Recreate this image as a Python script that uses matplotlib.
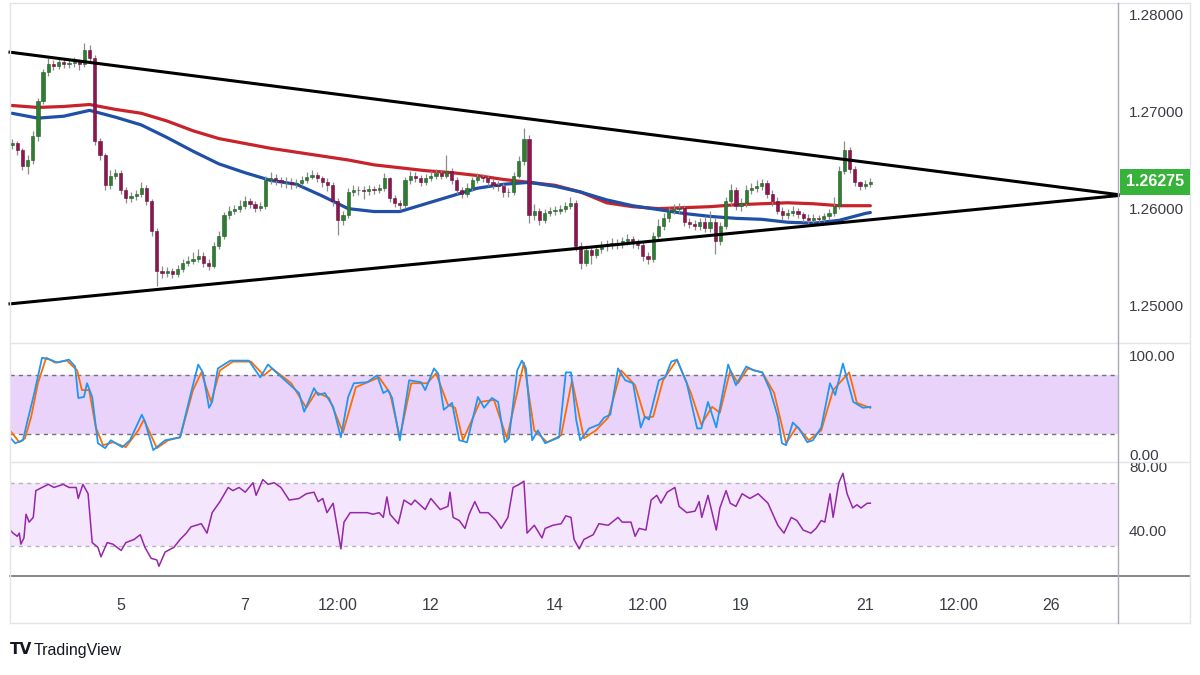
import matplotlib
matplotlib.use("Agg")
import matplotlib.pyplot as plt
import matplotlib.transforms as mtransforms
from matplotlib.lines import Line2D
from matplotlib.patches import Rectangle
import numpy as np

plt.rcParams['font.family'] = ['Liberation Sans Narrow', 'Liberation Sans', 'DejaVu Sans']

# ---- data (2h bars, index 0 = first bar) ----
first_open = 1.2665
closes = [1.2667, 1.2660, 1.2644, 1.2650, 1.2675, 1.2711, 1.2740, 1.2749, 1.2747, 1.2751,
          1.2749, 1.2750, 1.2751, 1.2749, 1.2763, 1.2755, 1.2670, 1.2655, 1.2624, 1.2634,
          1.2637, 1.2619, 1.2611, 1.2613, 1.2615, 1.2621, 1.2608, 1.2577, 1.2536, 1.2534,
          1.2536, 1.2533, 1.2538, 1.2544, 1.2546, 1.2548, 1.2551, 1.2544, 1.2541, 1.2562,
          1.2572, 1.2593, 1.2598, 1.2600, 1.2603, 1.2608, 1.2605, 1.2601, 1.2603, 1.2629,
          1.2631, 1.2629, 1.2627, 1.2627, 1.2625, 1.2626, 1.2629, 1.2633, 1.2635, 1.2631,
          1.2627, 1.2624, 1.2608, 1.2588, 1.2593, 1.2617, 1.2619, 1.2619, 1.2618, 1.2620,
          1.2619, 1.2621, 1.2631, 1.2611, 1.2606, 1.2604, 1.2629, 1.2634, 1.2631, 1.2627,
          1.2631, 1.2634, 1.2637, 1.2634, 1.2639, 1.2629, 1.2619, 1.2615, 1.2621, 1.2629,
          1.2633, 1.2631, 1.2627, 1.2624, 1.2623, 1.2617, 1.2617, 1.2634, 1.2649, 1.2672,
          1.2593, 1.2598, 1.2588, 1.2595, 1.2598, 1.2598, 1.2600, 1.2603, 1.2606, 1.2562,
          1.2544, 1.2557, 1.2552, 1.2559, 1.2562, 1.2563, 1.2565, 1.2564, 1.2567, 1.2569,
          1.2565, 1.2563, 1.2551, 1.2548, 1.2572, 1.2582, 1.2590, 1.2598, 1.2600, 1.2601,
          1.2586, 1.2584, 1.2582, 1.2586, 1.2580, 1.2586, 1.2567, 1.2582, 1.2608, 1.2619,
          1.2603, 1.2606, 1.2619, 1.2621, 1.2623, 1.2626, 1.2615, 1.2608, 1.2598, 1.2593,
          1.2596, 1.2598, 1.2594, 1.2590, 1.2588, 1.2590, 1.2589, 1.2592, 1.2596, 1.2603,
          1.2639, 1.2660, 1.2641, 1.2627, 1.2623, 1.2625, 1.26275]
highs = [1.2672, 1.2670, 1.2662, 1.2655, 1.2680, 1.2714, 1.2744, 1.2755, 1.2753, 1.2755,
         1.2754, 1.2754, 1.2756, 1.2754, 1.2770, 1.2768, 1.2758, 1.2673, 1.2657, 1.2640,
         1.2641, 1.2640, 1.2622, 1.2617, 1.2619, 1.2627, 1.2624, 1.2610, 1.2580, 1.2541,
         1.2540, 1.2539, 1.2542, 1.2548, 1.2551, 1.2555, 1.2558, 1.2555, 1.2548, 1.2566,
         1.2577, 1.2597, 1.2603, 1.2604, 1.2609, 1.2613, 1.2611, 1.2608, 1.2607, 1.2634,
         1.2638, 1.2636, 1.2633, 1.2632, 1.2631, 1.2630, 1.2634, 1.2638, 1.2640, 1.2638,
         1.2634, 1.2631, 1.2627, 1.2611, 1.2598, 1.2621, 1.2624, 1.2623, 1.2623, 1.2624,
         1.2623, 1.2625, 1.2637, 1.2633, 1.2614, 1.2609, 1.2633, 1.2639, 1.2638, 1.2635,
         1.2636, 1.2639, 1.2641, 1.2640, 1.2655, 1.2642, 1.2632, 1.2622, 1.2626, 1.2633,
         1.2637, 1.2636, 1.2634, 1.2630, 1.2628, 1.2626, 1.2621, 1.2638, 1.2654, 1.2683,
         1.2676, 1.2605, 1.2601, 1.2600, 1.2602, 1.2603, 1.2604, 1.2607, 1.2612, 1.2609,
         1.2566, 1.2563, 1.2561, 1.2563, 1.2567, 1.2568, 1.2570, 1.2569, 1.2571, 1.2574,
         1.2572, 1.2569, 1.2566, 1.2555, 1.2576, 1.2589, 1.2595, 1.2602, 1.2605, 1.2606,
         1.2604, 1.2590, 1.2588, 1.2590, 1.2592, 1.2598, 1.2590, 1.2586, 1.2612, 1.2625,
         1.2622, 1.2611, 1.2624, 1.2626, 1.2629, 1.2630, 1.2629, 1.2619, 1.2612, 1.2602,
         1.2600, 1.2603, 1.2601, 1.2597, 1.2594, 1.2594, 1.2593, 1.2596, 1.2600, 1.2612,
         1.2644, 1.2670, 1.2663, 1.2644, 1.2628, 1.2629, 1.2631]
lows = [1.2661, 1.2655, 1.2640, 1.2636, 1.2646, 1.2670, 1.2708, 1.2736, 1.2743, 1.2744,
        1.2745, 1.2745, 1.2746, 1.2742, 1.2746, 1.2751, 1.2665, 1.2650, 1.2619, 1.2620,
        1.2630, 1.2615, 1.2606, 1.2607, 1.2609, 1.2612, 1.2604, 1.2572, 1.2520, 1.2529,
        1.2530, 1.2529, 1.2530, 1.2535, 1.2541, 1.2543, 1.2545, 1.2540, 1.2537, 1.2539,
        1.2558, 1.2569, 1.2589, 1.2594, 1.2597, 1.2600, 1.2601, 1.2597, 1.2598, 1.2600,
        1.2625, 1.2624, 1.2622, 1.2621, 1.2620, 1.2621, 1.2623, 1.2626, 1.2630, 1.2627,
        1.2622, 1.2618, 1.2603, 1.2573, 1.2583, 1.2590, 1.2613, 1.2614, 1.2610, 1.2614,
        1.2615, 1.2616, 1.2618, 1.2607, 1.2602, 1.2599, 1.2601, 1.2625, 1.2627, 1.2623,
        1.2624, 1.2628, 1.2630, 1.2630, 1.2631, 1.2625, 1.2615, 1.2611, 1.2612, 1.2618,
        1.2626, 1.2627, 1.2623, 1.2620, 1.2618, 1.2612, 1.2612, 1.2614, 1.2631, 1.2645,
        1.2585, 1.2588, 1.2583, 1.2585, 1.2592, 1.2593, 1.2594, 1.2597, 1.2600, 1.2556,
        1.2538, 1.2541, 1.2543, 1.2549, 1.2554, 1.2556, 1.2559, 1.2559, 1.2560, 1.2563,
        1.2560, 1.2558, 1.2546, 1.2543, 1.2545, 1.2568, 1.2578, 1.2586, 1.2594, 1.2595,
        1.2582, 1.2580, 1.2578, 1.2578, 1.2576, 1.2576, 1.2553, 1.2563, 1.2579, 1.2604,
        1.2599, 1.2598, 1.2602, 1.2615, 1.2617, 1.2619, 1.2611, 1.2603, 1.2594, 1.2588,
        1.2589, 1.2592, 1.2590, 1.2586, 1.2584, 1.2585, 1.2585, 1.2586, 1.2588, 1.2592,
        1.2600, 1.2636, 1.2637, 1.2623, 1.2619, 1.2620, 1.2622]

# moving averages, sampled every 5 bars
ma_bars = list(range(0, 166, 5)) + [166]
ma_red = [1.2706, 1.2704, 1.2705, 1.2707, 1.2702, 1.2698, 1.2690, 1.2680, 1.2672, 1.2667,
          1.2662, 1.2658, 1.2654, 1.2650, 1.2645, 1.2642, 1.2639, 1.2637, 1.2634, 1.2630,
          1.2627, 1.2624, 1.2617, 1.2606, 1.2602, 1.2600, 1.2601, 1.2602, 1.2604, 1.2605,
          1.2606, 1.2605, 1.2603, 1.2603, 1.2603]
ma_blue = [1.2698, 1.2693, 1.2695, 1.2701, 1.2694, 1.2686, 1.2673, 1.2659, 1.2646, 1.2637,
           1.2629, 1.2625, 1.2613, 1.2600, 1.2597, 1.2597, 1.2605, 1.2613, 1.2621, 1.2625,
           1.2627, 1.2623, 1.2617, 1.2609, 1.2603, 1.2599, 1.2595, 1.2592, 1.2590, 1.2589,
           1.2586, 1.2585, 1.2588, 1.2595, 1.2596]

# triangle trend lines (start bar, end bar) / (start price, end price)
trend_bars = [-0.4, 213.9]
upper_line = [1.27608, 1.26144]
lower_line = [1.25021, 1.26134]

# stochastic %K / %D
k_bars = [-0.4, 0.6, 2.1, 2.9, 4.3, 5.8, 7.4, 8.7, 11.0, 12.2, 12.8, 13.9, 14.5, 15.5, 16.6,
          18.0, 19.1, 21.3, 22.8, 25.1, 25.7, 27.3, 29.6, 32.5, 34.6, 36.0, 36.9, 38.1, 38.7,
          39.8, 42.2, 45.8, 48.0, 49.5, 51.1, 53.2, 55.5, 56.5, 58.4, 59.2, 60.5, 62.1, 63.6,
          65.0, 66.1, 68.7, 70.6, 71.8, 72.7, 73.5, 75.0, 76.8, 79.1, 79.9, 81.6, 82.4, 83.5,
          85.1, 86.5, 88.0, 90.1, 91.3, 92.8, 94.0, 95.3, 96.1, 97.7, 98.6, 99.4, 100.6, 101.7,
          103.1, 105.8, 107.1, 108.1, 109.1, 109.9, 111.6, 113.5, 114.5, 115.7, 117.2, 118.6,
          120.1, 121.6, 122.4, 123.2, 125.1, 126.3, 127.5, 128.6, 130.5, 132.5, 133.3, 134.6,
          136.2, 137.3, 138.5, 140.0, 142.0, 143.5, 145.1, 146.6, 148.1, 148.9, 149.7, 151.0,
          152.2, 153.8, 154.9, 156.5, 158.2, 159.2, 160.7, 162.7, 164.6, 166.0]
k_vals = [17, 11, 14, 32, 62, 98, 96, 93, 96, 89, 57, 58, 72, 58, 11, 6, 14, 7, 14, 40,
          33, 4, 14, 17, 62, 91, 83, 47, 53, 87, 95, 95, 78, 91, 83, 73, 62, 43, 67, 60,
          62, 48, 17, 58, 72, 73, 80, 62, 65, 57, 14, 75, 73, 65, 87, 82, 45, 52, 14, 12,
          58, 47, 57, 53, 12, 16, 85, 95, 87, 14, 24, 11, 17, 83, 83, 35, 14, 26, 30, 37,
          40, 87, 75, 72, 27, 38, 35, 75, 78, 94, 96, 72, 26, 26, 53, 27, 58, 91, 70, 89,
          85, 83, 65, 38, 11, 9, 32, 26, 12, 14, 27, 72, 60, 92, 53, 47, 48]
d_bars = [-0.4, 1.4, 2.5, 3.7, 5.0, 6.6, 8.3, 10.6, 12.6, 13.5, 14.9, 16.2, 17.6, 19.5,
          22.0, 24.4, 25.5, 28.0, 30.2, 32.5, 35.0, 36.6, 38.5, 40.2, 42.7, 46.2, 48.7, 50.3,
          54.0, 56.9, 58.8, 61.3, 64.0, 66.5, 71.0, 73.1, 75.0, 77.2, 80.3, 82.0, 84.3, 85.7,
          87.2, 90.5, 93.2, 95.7, 99.0, 101.0, 103.5, 106.2, 108.3, 110.6, 112.9, 115.3, 117.8,
          120.5, 122.4, 124.0, 125.9, 128.6, 131.3, 133.3, 135.4, 136.9, 138.9, 140.4, 142.3,
          145.1, 147.4, 149.7, 151.8, 154.1, 156.5, 158.8, 161.9, 163.4, 166.0]
d_vals = [24, 12, 16, 38, 72, 98, 93, 95, 85, 65, 65, 27, 9, 12, 7, 24, 35, 6, 14, 17,
          65, 83, 53, 85, 94, 94, 80, 87, 72, 47, 63, 57, 22, 68, 78, 62, 17, 72, 72, 82,
          50, 47, 14, 53, 55, 16, 93, 24, 12, 19, 75, 16, 24, 37, 85, 70, 37, 38, 75, 96,
          62, 30, 48, 42, 85, 72, 87, 83, 62, 11, 28, 14, 24, 65, 83, 52, 47]

# RSI
rsi_bars = [-0.4, 0.2, 1.0, 1.4, 1.7, 2.3, 2.7, 3.3, 4.1, 4.6, 5.8, 7.0, 8.1, 9.9, 11.0,
            12.4, 12.8, 13.7, 14.7, 15.5, 16.6, 17.2, 18.4, 19.5, 21.1, 22.0, 23.6, 24.8,
            25.7, 26.9, 28.0, 28.4, 29.6, 31.3, 32.5, 33.7, 34.6, 36.6, 37.7, 38.7, 40.2,
            41.8, 42.7, 43.9, 45.1, 46.6, 47.2, 48.5, 49.5, 50.7, 52.0, 53.6, 55.5, 56.9,
            58.4, 59.2, 60.1, 60.9, 62.1, 63.6, 64.2, 65.4, 67.3, 68.7, 69.8, 71.0, 71.8,
            72.5, 73.1, 74.7, 75.8, 77.2, 77.9, 79.9, 81.0, 82.8, 84.3, 84.7, 85.3, 86.5,
            87.6, 88.4, 89.5, 90.5, 92.1, 93.6, 94.6, 95.9, 96.9, 98.1, 99.0, 99.6, 101.0,
            102.5, 103.1, 104.6, 106.2, 107.1, 108.1, 108.7, 109.7, 110.6, 112.4, 113.5,
            115.3, 117.2, 118.0, 119.7, 120.5, 121.3, 122.6, 123.6, 124.7, 125.5, 126.7,
            128.2, 129.0, 130.5, 132.1, 132.9, 133.4, 134.6, 136.2, 136.9, 138.1, 138.9,
            140.0, 141.2, 142.7, 144.3, 146.2, 148.1, 149.3, 150.7, 151.8, 153.0, 154.5,
            155.5, 156.5, 157.2, 158.2, 158.8, 159.9, 160.7, 161.5, 162.6, 163.4, 164.2,
            165.4, 166.0]
rsi_vals = [40, 38, 36, 38, 31, 35, 50, 45, 48, 65, 67, 69, 67, 69, 67, 67, 60, 69, 63, 32,
            29, 23, 32, 31, 27, 32, 34, 37, 29, 22, 21, 17, 26, 29, 34, 38, 42, 44, 38, 51,
            58, 67, 65, 67, 64, 70, 62, 72, 69, 70, 67, 59, 60, 63, 64, 58, 60, 51, 57, 28,
            45, 51, 51, 51, 50, 51, 48, 61, 50, 44, 59, 56, 59, 53, 60, 53, 55, 64, 48, 46,
            41, 50, 58, 51, 51, 46, 41, 48, 67, 69, 71, 38, 43, 35, 41, 43, 44, 49, 48, 34,
            28, 34, 37, 44, 43, 48, 45, 45, 36, 41, 40, 59, 62, 57, 64, 67, 55, 51, 52, 58,
            48, 62, 40, 54, 65, 57, 55, 63, 60, 63, 57, 43, 38, 48, 46, 40, 38, 41, 46, 45,
            63, 48, 70, 76, 63, 54, 56, 54, 57, 57]

tick_bars = [21, 45, 63, 81, 105, 123, 141, 165, 183, 201]
tick_labels = ['5', '7', '12:00', '12', '14', '12:00', '19', '21', '12:00', '26']
price_ticks = [1.25, 1.26, 1.27, 1.28]

# ---- layout helpers (pixel boxes on a 1200x675 canvas) ----
W, H = 1200, 675
def box(x0, y0, x1, y1):
    return [x0 / W, 1 - y1 / H, (x1 - x0) / W, (y1 - y0) / H]

fig = plt.figure(figsize=(12, 6.75), dpi=100, facecolor='white')
ax1 = fig.add_axes(box(10, 5, 1118, 342))
ax2 = fig.add_axes(box(10, 344, 1118, 461), sharex=ax1)
ax3 = fig.add_axes(box(10, 461, 1118, 576), sharex=ax1)

txt_col = '#3a3d45'
for ax in (ax1, ax2, ax3):
    for s in ax.spines.values():
        s.set_visible(False)
    ax.set_facecolor('none')
    ax.yaxis.tick_right()
    ax.tick_params(axis='y', length=0, pad=8, labelsize=11, labelcolor=txt_col)
    ax.tick_params(axis='x', length=0, labelbottom=False)

# ---- candles ----
opens = [first_open] + closes[:-1]
xb = np.arange(len(closes))
o = np.array(opens)
c = np.array(closes)
up = c >= o
body_lo = np.minimum(o, c)
body_h = np.maximum(np.abs(c - o), 0.00004)
ax1.vlines(xb, lows, highs, color='#8c8c8c', lw=0.9, zorder=3)
ax1.bar(xb[up], body_h[up], bottom=body_lo[up], width=0.62,
        color='#2e7d32', edgecolor='#1f5e23', lw=0.4, zorder=4)
ax1.bar(xb[~up], body_h[~up], bottom=body_lo[~up], width=0.62,
        color='#8e1650', edgecolor='#6d0f3c', lw=0.4, zorder=4)

ax1.plot(ma_bars, ma_red, color='#c8232b', lw=2.3, zorder=2, solid_capstyle='round')
ax1.plot(ma_bars, ma_blue, color='#1f4fa6', lw=2.3, zorder=2, solid_capstyle='round')
ax1.plot(trend_bars, upper_line, color='black', lw=2.2, zorder=5, clip_on=False)
ax1.plot(trend_bars, lower_line, color='black', lw=2.2, zorder=5, clip_on=False)

ax1.set_xlim(-0.4, 213.9)
ax1.set_ylim(1.24629, 1.28093)
ax1.set_yticks(price_ticks)
ax1.set_yticklabels(['%.5f' % p for p in price_ticks])

# last price tag
last = closes[-1]
fig.canvas.draw()
yd = ax1.transData.transform((0, last))[1]
fy = fig.transFigure.inverted().transform((0, yd))[1]
fig.add_artist(Rectangle((1120 / W, fy - 13 / H), 70 / W, 26 / H, transform=fig.transFigure,
                         fc='#37b23a', ec='none', zorder=10))
fig.text(1155 / W, fy, '%.5f' % last, color='white', fontsize=11.5, fontweight='bold',
         ha='center', va='center', zorder=11)

# ---- stochastic ----
ax2.axhspan(20, 80, color='#ead3fb', lw=0, zorder=0)
ax2.axhline(80, color='#6e7079', lw=1, ls=(0, (3, 3)), zorder=1)
ax2.axhline(20, color='#6e7079', lw=1, ls=(0, (3, 3)), zorder=1)
ax2.plot(k_bars, k_vals, color='#2196f3', lw=1.3, zorder=3)
ax2.plot(d_bars, d_vals, color='#ff6d00', lw=1.3, zorder=2)
ax2.set_ylim(-7.1, 111.9)
ax2.set_yticks([0, 100])
ax2.set_yticklabels(['0.00', '100.00'])

# ---- RSI ----
ax3.axhspan(30, 70, color='#f4e6fd', lw=0, zorder=0)
ax3.axhline(70, color='#b3b3b8', lw=1, ls=(0, (3, 3)), zorder=1)
ax3.axhline(30, color='#b3b3b8', lw=1, ls=(0, (3, 3)), zorder=1)
ax3.plot(rsi_bars, rsi_vals, color='#9527a9', lw=1.1, zorder=3)
ax3.set_ylim(10.8, 83.8)
ax3.set_yticks([40, 80])
ax3.set_yticklabels(['40.00', '80.00'])

ax3.set_xticks(tick_bars)
ax3.set_xticklabels(tick_labels)
ax3.tick_params(axis='x', labelbottom=True, length=0, pad=16, labelsize=11.5, labelcolor=txt_col)

# ---- frame lines ----
def hline(y, x0, x1, col, lw=1.0):
    fig.add_artist(Line2D([x0 / W, x1 / W], [1 - y / H, 1 - y / H], color=col, lw=lw,
                          transform=fig.transFigure, zorder=6))

def vline(x, y0, y1, col, lw=1.0):
    fig.add_artist(Line2D([x / W, x / W], [1 - y0 / H, 1 - y1 / H], color=col, lw=lw,
                          transform=fig.transFigure, zorder=6))

light = '#e3e5ea'
hline(3, 10, 1190, light)
hline(343, 10, 1190, light)
hline(462, 10, 1190, light)
hline(576, 10, 1190, '#6f7079', 1.2)
hline(623, 10, 1190, light)
vline(10, 3, 623, light)
vline(1190, 3, 623, light)
vline(1118, 3, 623, '#a9acb4', 1.0)

# TradingView mark
fig.text(10 / W, 1 - 650 / H, 'TV', fontsize=11, fontweight='heavy', color='#131722',
         family=['DejaVu Sans'], va='center', ha='left')
fig.text(34 / W, 1 - 650 / H, 'TradingView', fontsize=11.5, color='#131722',
         va='center', ha='left')

fig.savefig('out.png', dpi=100, facecolor='white')
